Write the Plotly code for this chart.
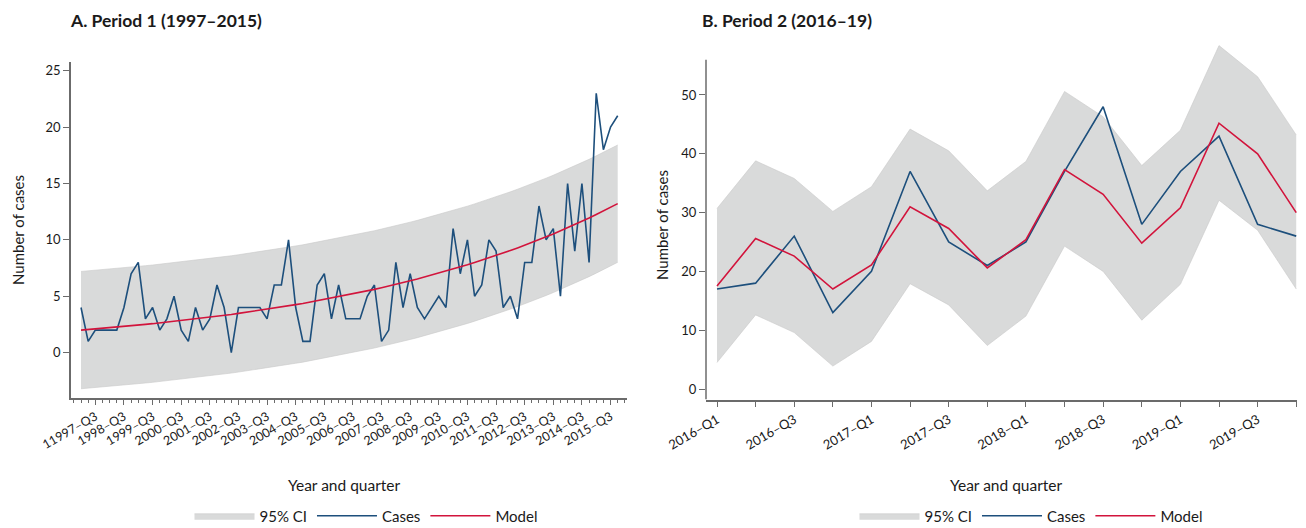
import plotly.graph_objects as go

# ---------------- Period 1 (1997-2015), quarterly ----------------
p1_tick_labels = ["11997–Q3", "1998–Q3", "1999–Q3", "2000–Q3", "2001–Q3", "2002–Q3",
                  "2003–Q3", "2004–Q3", "2005–Q3", "2006–Q3", "2007–Q3", "2008–Q3",
                  "2009–Q3", "2010–Q3", "2011–Q3", "2012–Q3", "2013–Q3", "2014–Q3",
                  "2015–Q3"]

p1_cases = [4, 1, 2, 2, 2, 2, 4, 7, 8, 3, 4, 2, 3, 5, 2, 1, 4, 2, 3, 6,
            4, 0, 4, 4, 4, 4, 3, 6, 6, 10, 4, 1, 1, 6, 7, 3, 6, 3, 3, 3,
            5, 6, 1, 2, 8, 4, 7, 4, 3, 4, 5, 4, 11, 7, 10, 5, 6, 10, 9, 4,
            5, 3, 8, 8, 13, 10, 11, 5, 15, 9, 15, 8, 23, 18, 20, 21]

p1_model = [2.00, 2.05, 2.10, 2.16, 2.21, 2.27, 2.33, 2.39, 2.45, 2.51,
            2.57, 2.64, 2.71, 2.77, 2.85, 2.92, 2.99, 3.07, 3.15, 3.23,
            3.31, 3.39, 3.48, 3.57, 3.66, 3.75, 3.85, 3.95, 4.05, 4.15,
            4.26, 4.36, 4.48, 4.59, 4.71, 4.83, 4.95, 5.08, 5.21, 5.34,
            5.47, 5.61, 5.76, 5.90, 6.05, 6.21, 6.37, 6.53, 6.70, 6.87,
            7.04, 7.22, 7.40, 7.59, 7.79, 7.99, 8.19, 8.40, 8.61, 8.83,
            9.06, 9.29, 9.52, 9.77, 10.01, 10.27, 10.53, 10.80, 11.07, 11.36,
            11.65, 11.94, 12.25, 12.56, 12.88, 13.21]

p1_lower = [-3.20, -3.15, -3.10, -3.04, -2.99, -2.93, -2.87, -2.82, -2.75, -2.69,
            -2.63, -2.56, -2.50, -2.43, -2.36, -2.28, -2.21, -2.13, -2.05, -1.97,
            -1.89, -1.81, -1.72, -1.63, -1.54, -1.45, -1.35, -1.25, -1.15, -1.05,
            -0.94, -0.84, -0.72, -0.61, -0.49, -0.37, -0.25, -0.12, 0.01, 0.14,
            0.27, 0.41, 0.56, 0.70, 0.85, 1.01, 1.17, 1.33, 1.50, 1.67,
            1.84, 2.02, 2.20, 2.39, 2.59, 2.79, 2.99, 3.20, 3.41, 3.63,
            3.86, 4.09, 4.32, 4.57, 4.81, 5.07, 5.33, 5.60, 5.87, 6.16,
            6.45, 6.74, 7.05, 7.36, 7.68, 8.01]

p1_upper = [7.20, 7.25, 7.30, 7.36, 7.41, 7.47, 7.53, 7.59, 7.65, 7.71,
            7.77, 7.84, 7.91, 7.97, 8.05, 8.12, 8.19, 8.27, 8.35, 8.43,
            8.51, 8.59, 8.68, 8.77, 8.86, 8.95, 9.05, 9.15, 9.25, 9.35,
            9.46, 9.56, 9.68, 9.79, 9.91, 10.03, 10.15, 10.28, 10.41, 10.54,
            10.67, 10.81, 10.96, 11.10, 11.25, 11.41, 11.57, 11.73, 11.90, 12.07,
            12.24, 12.42, 12.60, 12.79, 12.99, 13.19, 13.39, 13.60, 13.81, 14.03,
            14.26, 14.49, 14.72, 14.97, 15.21, 15.47, 15.73, 16.00, 16.27, 16.56,
            16.85, 17.14, 17.45, 17.76, 18.08, 18.41]

# ---------------- Period 2 (2016-19), quarterly ----------------
p2_quarters = ["2016–Q1", "2016–Q2", "2016–Q3", "2016–Q4",
               "2017–Q1", "2017–Q2", "2017–Q3", "2017–Q4",
               "2018–Q1", "2018–Q2", "2018–Q3", "2018–Q4",
               "2019–Q1", "2019–Q2", "2019–Q3", "2019–Q4"]
p2_cases = [17, 18, 26, 13, 20, 37, 25, 21, 25, 37, 48, 28, 37, 43, 28, 26]
p2_model = [17.5, 25.6, 22.6, 17.0, 21.1, 31.0, 27.3, 20.6, 25.4, 37.3, 33.1, 24.8, 30.8, 45.2, 40.0, 30.0]
p2_lower = [4.5, 12.6, 9.6, 3.9, 8.1, 17.9, 14.3, 7.4, 12.4, 24.3, 20.0, 11.7, 17.8, 32.1, 27.0, 17.0]
p2_upper = [30.7, 38.8, 35.8, 30.2, 34.4, 44.2, 40.5, 33.7, 38.7, 50.6, 46.3, 38.0, 44.0, 58.4, 53.1, 43.2]

BAND = "#d9dada"
BAND_EDGE = "#c9caca"
BLUE = "#1d4f7c"
RED = "#d2143c"
AXIS = "#6b6b6b"
TXT = "#1a1a1a"
FONT = "Lato"

# page has an 8 px body margin; the figure is sized to fit inside the window
OFF = 8
W, H = 1290, 520
def px_x(p):
    return (p - OFF) / W
def px_y(p):
    return (H - (p - OFF)) / H

fig = go.Figure()

x1 = list(range(len(p1_cases)))
x2 = list(range(len(p2_cases)))

# Period 1 band
fig.add_trace(go.Scatter(x=x1, y=p1_lower, mode="lines", line=dict(color=BAND_EDGE, width=0.6),
                         showlegend=False, hoverinfo="skip", xaxis="x", yaxis="y"))
fig.add_trace(go.Scatter(x=x1, y=p1_upper, mode="lines", line=dict(color=BAND_EDGE, width=0.6),
                         fill="tonexty", fillcolor=BAND, name="95% CI", legend="legend",
                         xaxis="x", yaxis="y"))
fig.add_trace(go.Scatter(x=x1, y=p1_cases, mode="lines", line=dict(color=BLUE, width=1.6),
                         name="Cases", legend="legend", xaxis="x", yaxis="y"))
fig.add_trace(go.Scatter(x=x1, y=p1_model, mode="lines", line=dict(color=RED, width=1.6),
                         name="Model", legend="legend", xaxis="x", yaxis="y"))

# Period 2 band
fig.add_trace(go.Scatter(x=x2, y=p2_lower, mode="lines", line=dict(color=BAND_EDGE, width=0.6),
                         showlegend=False, hoverinfo="skip", xaxis="x2", yaxis="y2"))
fig.add_trace(go.Scatter(x=x2, y=p2_upper, mode="lines", line=dict(color=BAND_EDGE, width=0.6),
                         fill="tonexty", fillcolor=BAND, name="95% CI", legend="legend2",
                         xaxis="x2", yaxis="y2"))
fig.add_trace(go.Scatter(x=x2, y=p2_cases, mode="lines", line=dict(color=BLUE, width=1.6),
                         name="Cases", legend="legend2", xaxis="x2", yaxis="y2"))
fig.add_trace(go.Scatter(x=x2, y=p2_model, mode="lines", line=dict(color=RED, width=1.6),
                         name="Model", legend="legend2", xaxis="x2", yaxis="y2"))

tickfont = dict(family=FONT, size=13, color=TXT)

p1_tickvals = [2 + 4 * k for k in range(len(p1_tick_labels))]
p2_ticktext = [q if k % 2 == 0 else "" for k, q in enumerate(p2_quarters)]

legend_common = dict(orientation="h", yanchor="middle", xanchor="center",
                     font=dict(family=FONT, size=15, color=TXT), itemwidth=60,
                     bgcolor="rgba(0,0,0,0)", traceorder="normal")

fig.update_layout(
    width=W, height=H,
    margin=dict(l=0, r=0, t=0, b=0, autoexpand=False),
    paper_bgcolor="white", plot_bgcolor="white",
    font=dict(family=FONT, color=TXT),
    xaxis=dict(domain=[px_x(71), px_x(627)], range=[-1.4, 76.3], automargin=False,
               tickmode="array", tickvals=p1_tickvals, ticktext=p1_tick_labels,
               tickangle=-30, tickfont=dict(family=FONT, size=12.5, color=TXT),
               ticks="outside", ticklen=5, tickcolor=AXIS,
               minor=dict(tickmode="linear", tick0=0, dtick=1, ticks="outside", ticklen=3, tickcolor=AXIS),
               showline=True, linecolor=AXIS, linewidth=1.5, showgrid=False, zeroline=False,
               anchor="y"),
    yaxis=dict(domain=[px_y(398), px_y(62)], range=[-4.02, 25.77], automargin=False,
               tickmode="array", tickvals=[0, 5, 10, 15, 20, 25],
               tickfont=tickfont, ticks="outside", ticklen=6, tickcolor=AXIS,
               showline=True, linecolor=AXIS, linewidth=1.5, showgrid=False, zeroline=False,
               anchor="x"),
    xaxis2=dict(domain=[px_x(706), px_x(1297)], range=[-0.285, 15.02], automargin=False,
                tickmode="array", tickvals=x2, ticktext=p2_ticktext,
                tickangle=-30, tickfont=tickfont,
                ticks="outside", ticklen=6, tickcolor=AXIS,
                showline=True, linecolor=AXIS, linewidth=1.5, showgrid=False, zeroline=False,
                anchor="y2"),
    yaxis2=dict(domain=[px_y(399.6), px_y(44.4)], range=[-1.8, 58.6], automargin=False,
                tickmode="array", tickvals=[0, 10, 20, 30, 40, 50],
                tickfont=tickfont, ticks="outside", ticklen=6, tickcolor=AXIS,
                showline=False, showgrid=False, zeroline=False, anchor="x2"),
    legend=dict(x=px_x(366), y=px_y(516), **legend_common),
    legend2=dict(x=px_x(1031), y=px_y(516), **legend_common),
    showlegend=True,
)

# y-axis line of panel B only up to the top of the axis
fig.add_shape(type="line", xref="x2 domain", yref="y2", x0=0, x1=0, y0=-1.8, y1=56.0,
              line=dict(color=AXIS, width=1.5))

annotations = [
    dict(text="<b>A. Period 1 (1997–2015)</b>", x=px_x(68), y=px_y(20), xanchor="left", yanchor="middle",
         font=dict(family=FONT, size=17.5, color=TXT)),
    dict(text="<b>B. Period 2 (2016–19)</b>", x=px_x(700), y=px_y(20), xanchor="left", yanchor="middle",
         font=dict(family=FONT, size=17.5, color=TXT)),
    dict(text="Number of cases", x=px_x(18), y=px_y(230), textangle=-90, xanchor="center", yanchor="middle",
         font=dict(family=FONT, size=15, color=TXT)),
    dict(text="Number of cases", x=px_x(662), y=px_y(225), textangle=-90, xanchor="center", yanchor="middle",
         font=dict(family=FONT, size=15, color=TXT)),
    dict(text="Year and quarter", x=px_x(345), y=px_y(485), xanchor="center", yanchor="middle",
         font=dict(family=FONT, size=15.5, color=TXT)),
    dict(text="Year and quarter", x=px_x(1006), y=px_y(485), xanchor="center", yanchor="middle",
         font=dict(family=FONT, size=15.5, color=TXT)),
]
for a in annotations:
    a.update(xref="paper", yref="paper", showarrow=False)
fig.update_layout(annotations=annotations)

fig.write_html("out.html")
